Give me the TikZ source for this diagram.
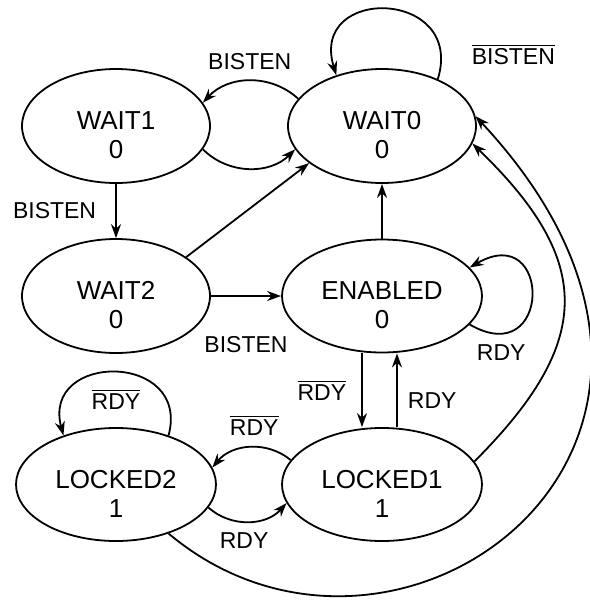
\documentclass[tikz,border=0pt]{standalone}
\usepackage{fontspec}
\setmainfont{Liberation Sans}
\usepackage{tikz}
\usetikzlibrary{positioning}
\usetikzlibrary{arrows,automata}
\usetikzlibrary{shapes.geometric}
\usetikzlibrary{arrows.meta}
\newcommand{\twolines}[2]{\rule{0pt}{18.3pt}#1\\#2}

\begin{document}
\begin{tikzpicture}[x=0.5pt,y=-0.5pt,node distance=133pt,->,>={Stealth[length=7pt,width=5pt]},auto,
  line width=0.9pt,inner sep=2pt,font=\fontsize{11.5}{13}\selectfont,
  every state/.style={ellipse,draw,fill=none,inner sep=0pt,align=center,
    minimum width=94pt,minimum height=57pt,font=\fontsize{13}{14.5}\selectfont},
  wide/.style={minimum width=100pt,minimum height=56.5pt}]
  \useasboundingbox (0,0) rectangle (590,601);

  \node[state] (w1) at (116,126) {\twolines{WAIT1}{0}};
  \node[state] (w0) [right of=w1] {\twolines{WAIT0}{0}};
  \node[state] (w2) [below of=w1, node distance=85pt] {\twolines{WAIT2}{0}};
  \node[state,wide] (en) [right of=w2] {\twolines{ENABLED}{0}};
  \node[state,wide] (l2) [below of=w2, node distance=94.25pt] {\twolines{LOCKED2}{1}};
  \node[state,wide] (l1) [right of=l2] {\twolines{LOCKED1}{1}};

  \path (w0.162) edge[bend right=45] node[above=3pt] {BISTEN} (w1.15)
        (w1.345) edge[bend right=45] (w0.195)
        (w0.40) edge[out=73,in=107,looseness=2.38] node[pos=0.1,right=13pt] {$\overline{\hbox{BISTEN}}$} (w0.132);
  \path (w1) edge node[left=7.5pt] {BISTEN} (w2)
        (w2.29) edge (w0.207)
        (w2) edge node[below=18pt] {BISTEN} (en)
        (en) edge (w0)
        (en.342) edge[out=-30,in=30,looseness=4.3] node[pos=0.15,below=3pt] {RDY} (en.18);
  \path ([xshift=-10pt]en.south) edge node[left=5.5pt] {$\overline{\hbox{RDY}}$} ([xshift=-10pt]l1.north)
        ([xshift=7.5pt]l1.north) edge node[pos=0.355,right=3pt] {RDY} ([xshift=7.5pt]en.south)
        (l1.165) edge[bend right=45] node[pos=0.45,above=3.5pt] {$\overline{\hbox{RDY}}$} (l2.10)
        (l2.346) edge[bend right=45] node[pos=0.45,below=3pt] {RDY} (l1.191)
        (l2.43) edge[out=75,in=105,looseness=2.12] node[below=6pt] {$\overline{\hbox{RDY}}$} (l2.137);
  % the two long returns to WAIT0
  \path (l1.14) edge[out=45,in=-44,looseness=1.36] (w0.349)
        (l2.317) edge[out=-40,in=-47,out looseness=1.48,in looseness=2.22] (w0.6);
\end{tikzpicture}
\end{document}
